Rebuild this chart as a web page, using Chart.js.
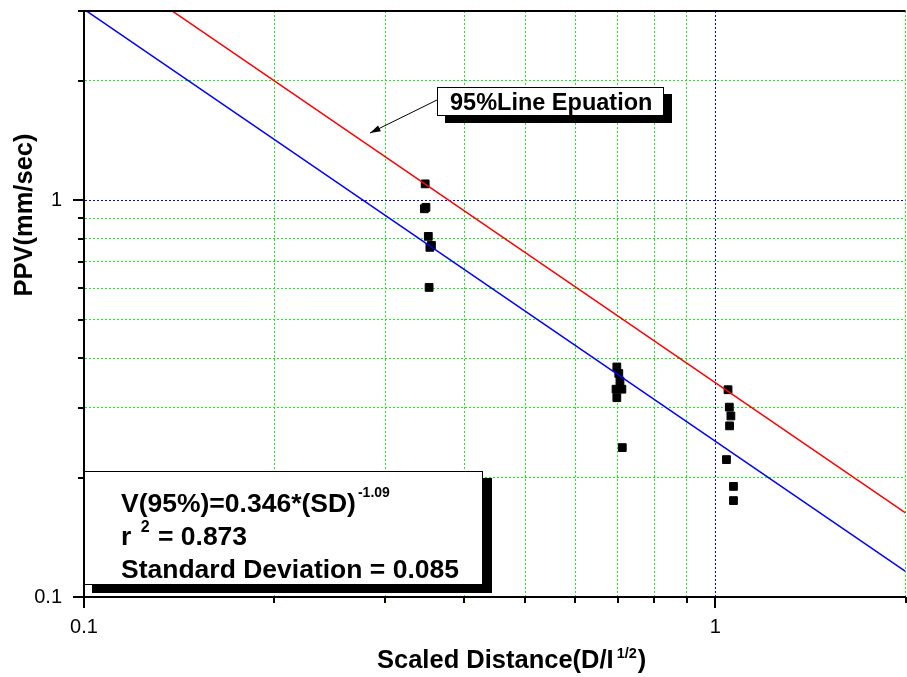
<!DOCTYPE html>
<html>
<head>
<meta charset="utf-8">
<script src="https://cdn.jsdelivr.net/npm/chart.js@4.4.1/dist/chart.umd.min.js"></script>
<style>
  html, body { margin: 0; padding: 0; background: #fff; overflow: hidden; }
  #wrap { position: relative; width: 912px; height: 677px; }
</style>
</head>
<body>
<div id="wrap"><canvas id="chart"></canvas></div>
<script>
// measured points: scaled distance vs PPV
const sdX = [0.347, 0.348, 0.346, 0.351, 0.355, 0.353, 0.352,
             0.698, 0.703, 0.706, 0.696, 0.711, 0.698, 0.712,
             1.047, 1.052, 1.058, 1.053, 1.041, 1.068, 1.068];
const ppvY = [1.10, 0.960, 0.952, 0.811, 0.770, 0.761, 0.603,
              0.380, 0.366, 0.350, 0.334, 0.334, 0.318, 0.238,
              0.333, 0.301, 0.286, 0.270, 0.222, 0.190, 0.175];

// fitted lines, end points
const fitX = [0.1, 2];
const fit95Y = [4.26, 0.163];
const fitMeanY = [3.03, 0.116];

const xTicks = [0.1, 0.2, 0.3, 0.4, 0.5, 0.6, 0.7, 0.8, 0.9, 1, 2];
const yTicks = [0.1, 0.2, 0.3, 0.4, 0.5, 0.6, 0.7, 0.8, 0.9, 1, 2, 3];
const labeledTicks = [0.1, 1];

const xTitle = ['Scaled Distance(D/I', '1/2', ')'];
const yTitle = 'PPV(mm/sec)';
const calloutText = '95%Line Epuation';
const eqLines = [
  ['V(95%)=0.346*(SD)', '-1.09', ''],
  ['r ', '2', ' = 0.873'],
  ['Standard Deviation = 0.085', '', '']
];

const FONT = "'Liberation Sans', Arial, sans-serif";
const GREEN = 'rgb(20,240,20)';
const BLUE = '#0000ff';

const pts = sdX.map((x, i) => ({x, y: ppvY[i]}));
const line95 = fitX.map((x, i) => ({x, y: fit95Y[i]}));
const lineMean = fitX.map((x, i) => ({x, y: fitMeanY[i]}));

function seg(ctx, x1, y1, x2, y2) {
  ctx.beginPath();
  ctx.moveTo(x1, y1);
  ctx.lineTo(x2, y2);
  ctx.stroke();
}

// draws [main, sup, rest] with a raised small part
function supText(ctx, parts, x, y, size, supSize, rise) {
  ctx.font = `bold ${size}px ${FONT}`;
  ctx.fillText(parts[0], x, y);
  x += ctx.measureText(parts[0]).width;
  if (parts[1]) {
    x += 2;
    ctx.font = `bold ${supSize}px ${FONT}`;
    ctx.fillText(parts[1], x, y - rise);
    x += ctx.measureText(parts[1]).width + 1;
  }
  if (parts[2]) {
    ctx.font = `bold ${size}px ${FONT}`;
    ctx.fillText(parts[2], x, y);
  }
}

const decor = {
  id: 'decor',
  afterDraw(chart) {
    const {ctx, chartArea: a} = chart;
    const xs = chart.scales.x, ys = chart.scales.y;
    ctx.save();
    ctx.strokeStyle = '#000';
    ctx.fillStyle = '#000';

    // top frame line
    ctx.lineWidth = 2;
    seg(ctx, a.left - 1, a.top, a.right, a.top);

    // tick marks, long at decades
    yTicks.forEach(v => {
      const py = Math.round(ys.getPixelForValue(v));
      const len = labeledTicks.includes(v) ? 11 : 6;
      seg(ctx, a.left - len, py, a.left, py);
    });
    xTicks.forEach(v => {
      const px = Math.round(xs.getPixelForValue(v));
      const len = labeledTicks.includes(v) ? 11 : 6;
      seg(ctx, px, a.bottom, px, a.bottom + len);
    });

    // axis titles
    ctx.textBaseline = 'alphabetic';
    ctx.textAlign = 'left';
    ctx.font = `bold 25.5px ${FONT}`;
    ctx.fillText(xTitle[0], 377, 668);
    let tx = 377 + ctx.measureText(xTitle[0]).width + 3;
    ctx.font = `bold 14.5px ${FONT}`;
    ctx.fillText(xTitle[1], tx, 658);
    tx += ctx.measureText(xTitle[1]).width + 1;
    ctx.font = `bold 25.5px ${FONT}`;
    ctx.fillText(xTitle[2], tx, 668);

    ctx.save();
    ctx.translate(32, 215);
    ctx.rotate(-Math.PI / 2);
    ctx.textAlign = 'center';
    ctx.fillText(yTitle, 0, 0);
    ctx.restore();

    // callout box with shadow and arrow
    ctx.fillRect(445, 94, 227, 29);
    ctx.fillStyle = '#fff';
    ctx.fillRect(437, 87, 226, 28);
    ctx.lineWidth = 1;
    ctx.strokeRect(437.5, 87.5, 226, 28);
    ctx.fillStyle = '#000';
    ctx.font = `bold 23.5px ${FONT}`;
    ctx.fillText(calloutText, 450, 110);

    const ax1 = 437, ay1 = 100, ax2 = 370, ay2 = 133;
    seg(ctx, ax1, ay1, ax2, ay2);
    const ang = Math.atan2(ay2 - ay1, ax2 - ax1);
    ctx.beginPath();
    ctx.moveTo(ax2, ay2);
    ctx.lineTo(ax2 - 11 * Math.cos(ang - 0.3), ay2 - 11 * Math.sin(ang - 0.3));
    ctx.lineTo(ax2 - 11 * Math.cos(ang + 0.3), ay2 - 11 * Math.sin(ang + 0.3));
    ctx.closePath();
    ctx.fill();

    // equation box
    ctx.fillRect(92, 478, 400, 115);
    ctx.fillStyle = '#fff';
    ctx.fillRect(84, 471, 398, 113);
    ctx.strokeRect(84.5, 471.5, 398, 113);
    ctx.fillStyle = '#000';
    const base = [512, 545, 578];
    eqLines.forEach((parts, i) => {
      supText(ctx, parts, 121, base[i], 26.5, i === 0 ? 14 : 16, i === 0 ? 15 : 13);
    });

    ctx.restore();
  }
};

function gridColor(c) {
  const v = c.tick && c.tick.value;
  if (v === 0.1 || v === 3) return 'rgba(0,0,0,0)';
  if (v === 1) return BLUE;
  return GREEN;
}

// drop the edge-label padding so the plot area is set by layout only
function noPad(s) {
  s.paddingTop = 0;
  s.paddingBottom = 0;
  s.paddingLeft = 0;
  s.paddingRight = 0;
}

new Chart(document.getElementById('chart'), {
  type: 'scatter',
  data: {
    datasets: [
      {
        label: '95% line',
        data: line95,
        showLine: true,
        borderColor: '#ff0000',
        borderWidth: 1.5,
        pointRadius: 0,
        order: 0
      },
      {
        label: 'mean line',
        data: lineMean,
        showLine: true,
        borderColor: '#0000ff',
        borderWidth: 1.5,
        pointRadius: 0,
        order: 0
      },
      {
        label: 'PPV',
        data: pts,
        pointStyle: 'rect',
        pointRadius: 5.5,
        backgroundColor: '#000',
        borderColor: '#000',
        borderWidth: 1,
        order: 1
      }
    ]
  },
  options: {
    responsive: true,
    maintainAspectRatio: false,
    animation: false,
    layout: { padding: { top: 11, right: 0, left: 0, bottom: 0 } },
    plugins: {
      legend: { display: false },
      tooltip: { enabled: false }
    },
    scales: {
      x: {
        type: 'logarithmic',
        min: 0.1,
        max: 2,
        afterBuildTicks: s => { s.ticks = xTicks.map(v => ({value: v})); },
        afterFit: s => { s.height = 80; noPad(s); },
        ticks: {
          autoSkip: false,
          maxRotation: 0,
          padding: 18,
          color: '#000',
          font: { family: FONT, size: 20 },
          callback: v => labeledTicks.includes(v) ? String(v) : ''
        },
        grid: { color: gridColor, lineWidth: 1, drawTicks: false },
        border: { color: '#000', width: 2, dash: [2, 2] }
      },
      y: {
        type: 'logarithmic',
        min: 0.1,
        max: 3,
        afterBuildTicks: s => { s.ticks = yTicks.map(v => ({value: v})); },
        afterFit: s => { s.width = 84; noPad(s); },
        ticks: {
          autoSkip: false,
          padding: 22,
          color: '#000',
          font: { family: FONT, size: 20 },
          callback: v => labeledTicks.includes(v) ? String(v) : ''
        },
        grid: { color: gridColor, lineWidth: 1, drawTicks: false },
        border: { color: '#000', width: 2, dash: [2, 2] }
      }
    }
  },
  plugins: [decor]
});
</script>
</body>
</html>
